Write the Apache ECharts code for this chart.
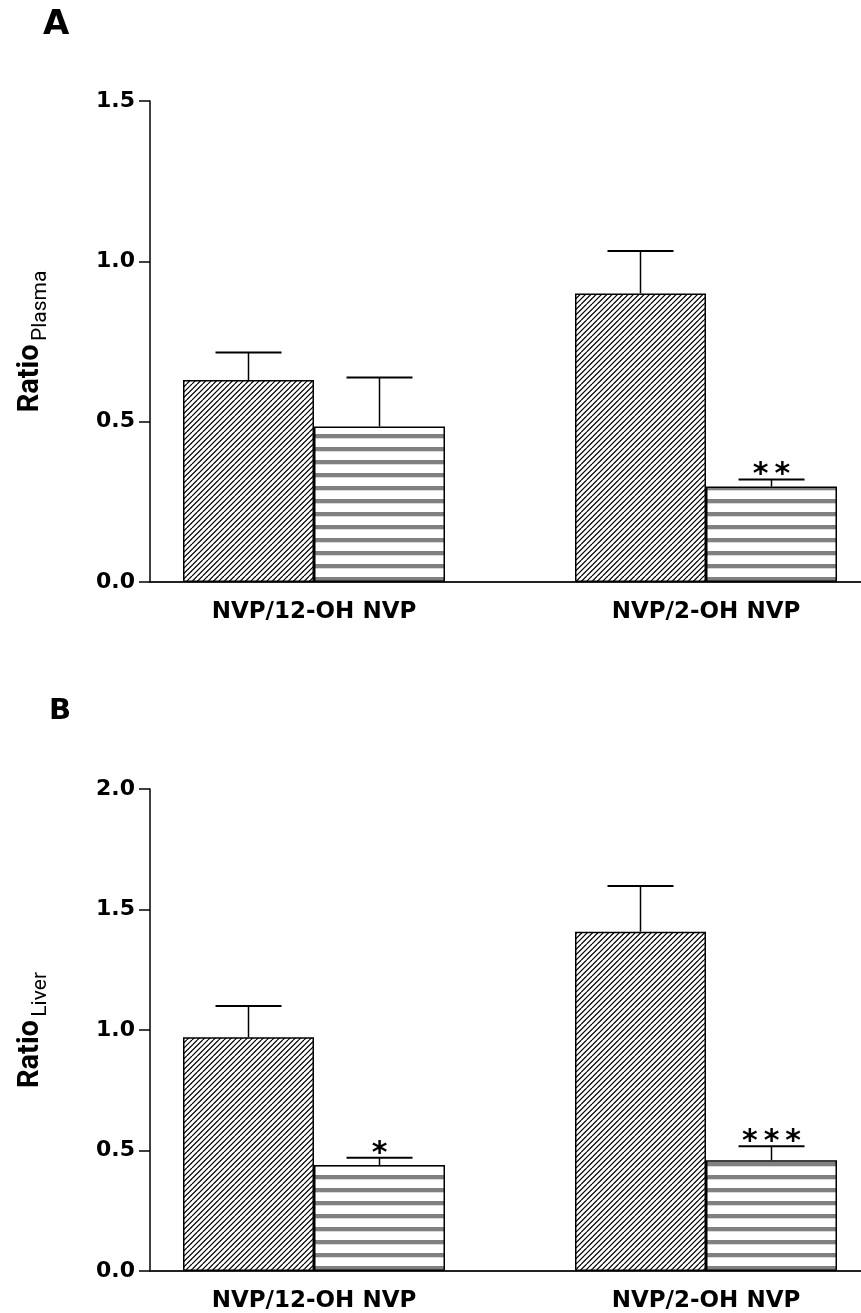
<!DOCTYPE html>
<html><head><meta charset="utf-8">
<script src="https://cdn.jsdelivr.net/npm/echarts@6/dist/echarts.min.js"></script>
<style>html,body{margin:0;padding:0;background:#fff}#c{width:861px;height:1313px}</style>
</head><body><div id="c"></div>
<script>
// ---- data ----
const categories = ['NVP/12-OH NVP', 'NVP/2-OH NVP'];
const plasmaHatched = [0.63, 0.90];
const plasmaHatchedErr = [0.086, 0.132];
const plasmaStriped = [0.485, 0.298];
const plasmaStripedErr = [0.153, 0.022];
const plasmaSig = ['', '**'];
const liverHatched = [0.97, 1.408];
const liverHatchedErr = [0.13, 0.19];
const liverStriped = [0.44, 0.46];
const liverStripedErr = [0.03, 0.058];
const liverSig = ['*', '***'];
const plasmaTicks = [0, 0.5, 1.0, 1.5];
const liverTicks = [0, 0.5, 1.0, 1.5, 2.0];

// ---- style constants ----
const BAR_W = 131;
const CAP_W = 66;
const XMIN = 1 - 164 / 392;
const XMAX = XMIN + 711 / 392;
const FONT = 'DejaVu Sans';
const NAME_FONT = 'Roboto';

function hatchPattern() {
  const s = 16;
  const c = document.createElement('canvas'); c.width = s; c.height = s;
  const g = c.getContext('2d');
  g.fillStyle = '#fff'; g.fillRect(0, 0, s, s);
  g.strokeStyle = '#000'; g.lineWidth = 1.2;
  for (let k = -4; k <= 4; k++) {
    const x0 = k * s / 3;
    g.beginPath(); g.moveTo(x0, s); g.lineTo(x0 + s, 0); g.stroke();
  }
  return c;
}
function stripePattern() {
  const c = document.createElement('canvas'); c.width = 8; c.height = 13;
  const g = c.getContext('2d');
  g.fillStyle = '#fff'; g.fillRect(0, 0, 8, 13);
  g.fillStyle = '#808080'; g.fillRect(0, 5, 8, 4.3);
  return c;
}
const hatch = { image: hatchPattern(), repeat: 'repeat' };
const stripe = { image: stripePattern(), repeat: 'repeat' };

function barSeries(vals, gi, fill) {
  return {
    type: 'bar', xAxisIndex: gi, yAxisIndex: gi,
    data: vals.map((v, i) => [i + 1, v]),
    barWidth: BAR_W, barGap: '0%',
    itemStyle: { color: fill, borderColor: '#000', borderWidth: 1.5 },
    silent: true, animation: false
  };
}
function errSeries(vals, errs, sigs, gi, side) {
  return {
    type: 'custom', xAxisIndex: gi, yAxisIndex: gi,
    data: vals.map((v, i) => [i + 1, v, v + errs[i], i]),
    silent: true, animation: false, z: 5,
    renderItem: function (params, api) {
      const x = api.value(0);
      const b = api.coord([x, api.value(1)]);
      const t = api.coord([x, api.value(2)]);
      const cx = b[0] + side * BAR_W / 2;
      const sig = sigs ? sigs[api.value(3)] : '';
      const children = [
        { type: 'line', shape: { x1: cx, y1: b[1], x2: cx, y2: t[1] }, style: { stroke: '#000', lineWidth: 1.5 } },
        { type: 'line', shape: { x1: cx - CAP_W / 2, y1: t[1], x2: cx + CAP_W / 2, y2: t[1] }, style: { stroke: '#000', lineWidth: 2 } }
      ];
      if (sig) {
        children.push({ type: 'text', x: cx, y: t[1] + 11, style: { text: sig.split('').join('\u2009'), fontSize: 30, fontWeight: 'bold', fontFamily: FONT, fill: '#000', align: 'center', verticalAlign: 'bottom' } });
      }
      return { type: 'group', children: children };
    }
  };
}
function yAxis(gi, ticks, sub, gap) {
  return {
    gridIndex: gi, type: 'value', min: ticks[0], max: ticks[ticks.length - 1], interval: ticks[1] - ticks[0],
    axisLine: { show: true, lineStyle: { color: '#000', width: 1.5 } },
    axisTick: { show: true, length: 11, lineStyle: { color: '#000', width: 1.5 } },
    splitLine: { show: false },
    axisLabel: { formatter: v => v.toFixed(1), fontFamily: FONT, fontWeight: 'bold', fontSize: 22, color: '#000', margin: 15 },
    name: '{a|Ratio} {b|' + sub + '}', nameLocation: 'middle', nameGap: gap,
    nameTextStyle: {
      rich: {
        a: { fontFamily: NAME_FONT, fontWeight: 'bold', fontSize: 29, color: '#000', lineHeight: 40, verticalAlign: 'middle' },
        b: { fontFamily: NAME_FONT, fontWeight: 'normal', fontSize: 21, color: '#000', lineHeight: 21, verticalAlign: 'bottom' }
      }
    }
  };
}
function xAxis(gi) {
  return {
    gridIndex: gi, type: 'value', min: XMIN, max: XMAX,
    axisLine: { show: true, onZero: false, lineStyle: { color: '#222', width: 2 } },
    axisTick: { show: false }, splitLine: { show: false },
    axisLabel: { customValues: [1, 2], formatter: v => categories[Math.round(v) - 1] || '', fontFamily: FONT, fontWeight: 'bold', fontSize: 23, color: '#000', margin: 19 }
  };
}

const chart = echarts.init(document.getElementById('c'), null, { renderer: 'canvas' });
chart.setOption({
  animation: false,
  backgroundColor: '#fff',
  title: [
    { text: 'A', left: 38, top: 3, textStyle: { fontFamily: FONT, fontWeight: 'bold', fontSize: 34, color: '#000' } },
    { text: 'B', left: 44, top: 692, textStyle: { fontFamily: FONT, fontWeight: 'bold', fontSize: 29, color: '#000' } }
  ],
  grid: [
    { left: 150, top: 101, width: 711, height: 481 },
    { left: 150, top: 789, width: 711, height: 483 }
  ],
  xAxis: [xAxis(0), xAxis(1)],
  yAxis: [yAxis(0, plasmaTicks, 'Plasma', 99), yAxis(1, liverTicks, 'Liver', 99)],
  series: [
    barSeries(plasmaHatched, 0, hatch),
    barSeries(plasmaStriped, 0, stripe),
    errSeries(plasmaHatched, plasmaHatchedErr, null, 0, -1),
    errSeries(plasmaStriped, plasmaStripedErr, plasmaSig, 0, 1),
    barSeries(liverHatched, 1, hatch),
    barSeries(liverStriped, 1, stripe),
    errSeries(liverHatched, liverHatchedErr, null, 1, -1),
    errSeries(liverStriped, liverStripedErr, liverSig, 1, 1)
  ]
});
</script></body></html>
